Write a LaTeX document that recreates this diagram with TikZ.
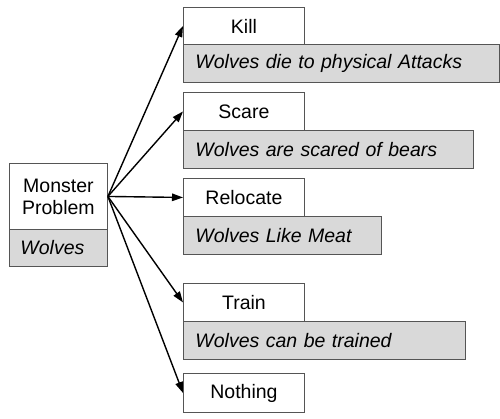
\documentclass[tikz,border=0pt]{standalone}
\usepackage{fontspec}
\setmainfont{Liberation Sans}
\usetikzlibrary{arrows.meta}
\definecolor{boxline}{HTML}{555555}
\definecolor{boxgray}{HTML}{D9D9D9}
\begin{document}
\begin{tikzpicture}[x=1pt,y=-1pt,
  whitebox/.style={draw=boxline, line width=0.9pt, fill=white, anchor=north west, minimum width=121pt, minimum height=37pt, inner sep=0pt, font=\fontsize{19.5}{22}\selectfont},
  graybox/.style={draw=boxline, line width=0.9pt, fill=boxgray, anchor=north west, minimum height=38pt, inner xsep=12pt, inner ysep=0pt, text width=#1, align=left, font=\fontsize{19.5}{22}\selectfont\itshape},
  conn/.style={line width=1.4pt, -{Triangle[length=11pt,width=7.5pt]}}
]
\useasboundingbox (0,0) rectangle (500,418);
% monster
\node[draw=boxline, line width=0.9pt, fill=white, anchor=north west, minimum width=98pt, minimum height=66pt, inner sep=0pt, align=center, font=\fontsize{19.5}{22}\selectfont] (monster) at (9,163) {Monster\\Problem};
\node[graybox=76pt, inner xsep=11pt, minimum height=37pt] (wolves) at (9,229) {Wolves};
% kill
\node[graybox=292pt] (killd) at (183,44) {Wolves die to physical Attacks};
\node[whitebox, minimum height=37pt] (kill) at (183,7) {Kill};
% scare
\node[graybox=266pt] (scared) at (183,130) {Wolves are scared of bears};
\node[whitebox, minimum height=38pt] (scare) at (183,92) {Scare};
% relocate
\node[graybox=174pt] (relocated) at (183,216) {Wolves Like Meat};
\node[whitebox, minimum height=38pt] (relocate) at (183,178) {Relocate};
% train
\node[graybox=258pt] (traind) at (183,321) {Wolves can be trained};
\node[whitebox, minimum height=38pt] (train) at (183,283) {Train};
% nothing
\node[whitebox, minimum height=39pt] (nothing) at (183,373) {Nothing};
% connectors
\draw[conn] (monster.east) -- (kill.west);
\draw[conn] (monster.east) -- (scare.west);
\draw[conn] (monster.east) -- (relocate.west);
\draw[conn] (monster.east) -- (train.west);
\draw[conn] (monster.east) -- (nothing.west);
\end{tikzpicture}
\end{document}
